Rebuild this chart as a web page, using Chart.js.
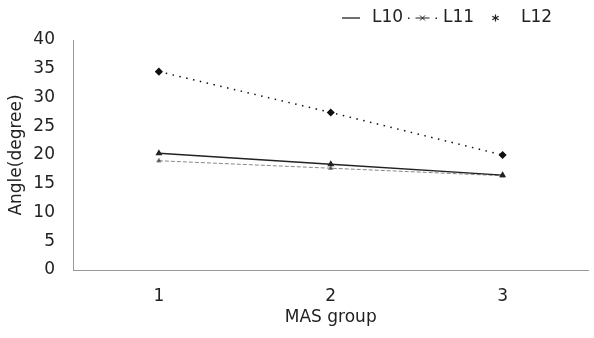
<!DOCTYPE html>
<html>
<head>
<meta charset="utf-8">
<script src="https://cdn.jsdelivr.net/npm/chart.js@4.4.0/dist/chart.umd.min.js"></script>
<style>
  html, body { margin: 0; padding: 0; background: #fff; }
  #wrap { width: 594px; height: 338px; }
</style>
</head>
<body>
<div id="wrap"><canvas id="chart"></canvas></div>
<script>
// MAS group categories and angles (degrees)
const groups = ['1', '2', '3'];
const l10 = [20.3, 18.4, 16.5];
const l11 = [19.0, 17.7, 16.4];
const l12 = [34.5, 27.4, 20.0];
const yTicks = [0, 5, 10, 15, 20, 25, 30, 35, 40];

const FONT = "'DejaVu Sans', sans-serif";
const INK = '#222';

// legend drawn by hand: marker kind, marker left, marker width, text left
const legendItems = [
    { kind: 'line',  mx: 342, mw: 18, tx: 372 },
    { kind: 'dashX', mx: 408, mw: 29, tx: 443 },
    { kind: 'star',  mx: 492, mw: 7,  tx: 521 }
];

const legendPlugin = {
    id: 'handLegend',
    afterDraw(chart) {
        const c = chart.ctx;
        const y = 18;
        c.save();
        c.strokeStyle = '#222';
        c.fillStyle = '#222';
        legendItems.forEach((it, i) => {
            c.lineWidth = 1.3;
            if (it.kind === 'line') {
                c.beginPath(); c.moveTo(it.mx, y); c.lineTo(it.mx + it.mw, y); c.stroke();
            } else if (it.kind === 'dashX') {
                const cx = it.mx + it.mw / 2;
                c.fillRect(it.mx, y - 0.5, 1.5, 1.5);
                c.fillRect(it.mx + it.mw - 1.5, y - 0.5, 1.5, 1.5);
                c.lineWidth = 1;
                c.beginPath(); c.moveTo(cx - 7, y); c.lineTo(cx + 7, y); c.stroke();
                c.beginPath();
                c.moveTo(cx - 2.5, y - 2.5); c.lineTo(cx + 2.5, y + 2.5);
                c.moveTo(cx + 2.5, y - 2.5); c.lineTo(cx - 2.5, y + 2.5);
                c.stroke();
            } else {
                const cx = it.mx + it.mw / 2;
                c.lineWidth = 1.2;
                c.beginPath();
                c.moveTo(cx, y - 3.5); c.lineTo(cx, y + 3.5);
                c.moveTo(cx - 3.2, y - 1.8); c.lineTo(cx + 3.2, y + 1.8);
                c.moveTo(cx + 3.2, y - 1.8); c.lineTo(cx - 3.2, y + 1.8);
                c.stroke();
            }
            c.fillStyle = INK;
            c.font = '17px ' + FONT;
            c.textBaseline = 'middle';
            c.textAlign = 'left';
            c.fillText(chart.data.datasets[i].label, it.tx, y);
            c.fillStyle = '#222';
        });
        c.restore();
    }
};

const ctx = document.getElementById('chart').getContext('2d');

new Chart(ctx, {
    type: 'line',
    data: {
        labels: groups,
        datasets: [
            {
                label: 'L10',
                data: l10,
                borderColor: '#222',
                backgroundColor: '#222',
                borderWidth: 1.5,
                pointStyle: 'triangle',
                pointRadius: 2.5,
                tension: 0
            },
            {
                label: 'L11',
                data: l11,
                borderColor: '#888',
                backgroundColor: '#444',
                borderWidth: 1,
                borderDash: [4, 2],
                pointStyle: 'triangle',
                pointRadius: 2.5,
                tension: 0
            },
            {
                label: 'L12',
                data: l12,
                borderColor: '#111',
                backgroundColor: '#111',
                borderWidth: 1.5,
                borderDash: [1.5, 5.5],
                pointStyle: 'rectRot',
                pointRadius: 3,
                tension: 0
            }
        ]
    },
    options: {
        responsive: true,
        maintainAspectRatio: false,
        animation: false,
        layout: { padding: { left: 4, right: 2, top: 40, bottom: 9 } },
        plugins: {
            legend: { display: false },
            tooltip: { enabled: false }
        },
        scales: {
            x: {
                offset: true,
                afterFit(scale) {
                    scale.height = 59;
                },
                grid: { display: false, drawTicks: false },
                border: { display: true, color: '#999', dash: [8, 6], width: 1 },
                ticks: { color: INK, padding: 16, font: { family: FONT, size: 17 } },
                title: {
                    display: true,
                    text: 'MAS group',
                    color: INK,
                    padding: { top: 0.8, bottom: 1.4 },
                    font: { family: FONT, size: 17 }
                }
            },
            y: {
                min: 0,
                max: 40,
                afterBuildTicks(scale) {
                    scale.ticks = yTicks.map(v => ({ value: v }));
                },
                afterFit(scale) {
                    scale.width = 69;
                },
                grid: { display: false, drawTicks: false },
                border: { display: true, color: '#999', dash: [2, 2], width: 1 },
                ticks: { color: INK, padding: 18, font: { family: FONT, size: 17 } },
                title: {
                    display: true,
                    text: 'Angle(degree)',
                    color: INK,
                    padding: { top: 2.3, bottom: 2 },
                    font: { family: FONT, size: 17 }
                }
            }
        }
    },
    plugins: [legendPlugin]
});
</script>
</body>
</html>
